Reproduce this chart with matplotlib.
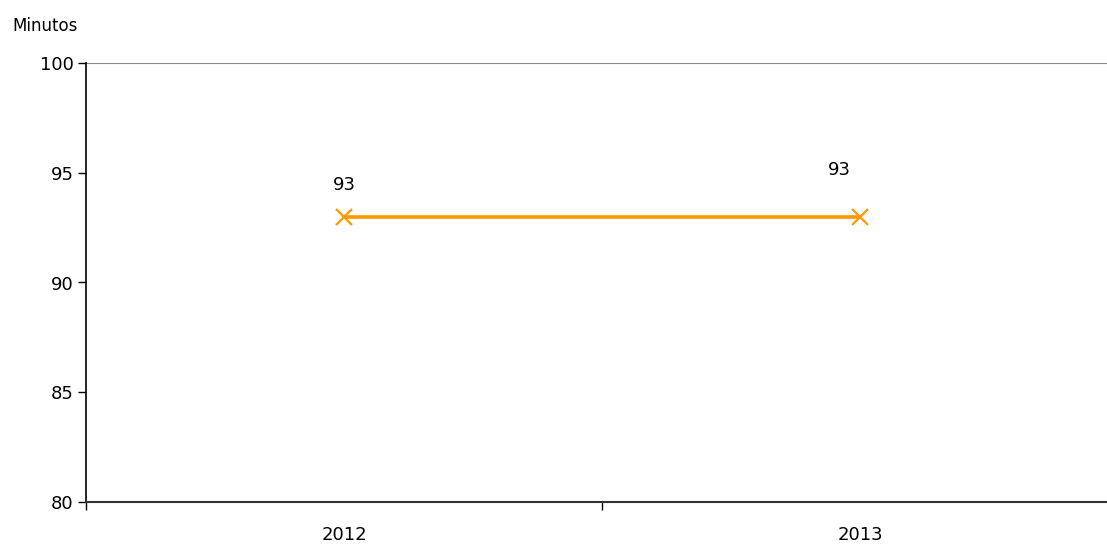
import matplotlib
matplotlib.use("Agg")
import matplotlib.pyplot as plt

# datos
years = ["2012", "2013"]
minutes = [93, 93]
y_ticks = [80, 85, 90, 95, 100]

plt.rcParams['font.family'] = ['DejaVu Sans']

fig = plt.figure(figsize=(11.07, 5.44), dpi=100)
ax = fig.add_axes([86 / 1107, 42 / 544, 1032 / 1107, 439 / 544])

x = list(range(len(years)))
ax.plot(x, minutes, color='#FF9900', lw=2.6, marker='x', ms=12, mew=1.6)

# etiquetas de datos
offsets = [(0, 16), (-15, 27)]
for xi, v, off in zip(x, minutes, offsets):
    ax.annotate(str(v), (xi, v), xytext=off, textcoords='offset points',
                ha='center', va='bottom', fontsize=13)

ax.set_xlim(-0.5, 1.5)
ax.set_ylim(80, 100)
ax.set_yticks(y_ticks)
ax.set_yticklabels([str(t) for t in y_ticks], fontsize=13)
ax.set_xticks([-0.5, 0.5, 1.5])
ax.set_xticklabels([])
ax.set_xticks(x, minor=True)
ax.set_xticklabels(years, minor=True, fontsize=13)
ax.tick_params(axis='x', which='minor', length=0, pad=17)
ax.tick_params(axis='x', which='major', length=6, direction='out', width=1)
ax.tick_params(axis='y', length=6, direction='out', width=1, pad=3)

ax.axhline(100, color='#888888', lw=1.5, zorder=0)
ax.spines['top'].set_visible(False)
ax.spines['right'].set_visible(False)
ax.spines['left'].set_linewidth(1.2)
ax.spines['bottom'].set_linewidth(1.5)
ax.spines['bottom'].set_color('#333333')

fig.text(12 / 1107, 1 - 26 / 544, "Minutos", fontsize=12, va='center', ha='left')

fig.savefig("out.png", dpi=100)
